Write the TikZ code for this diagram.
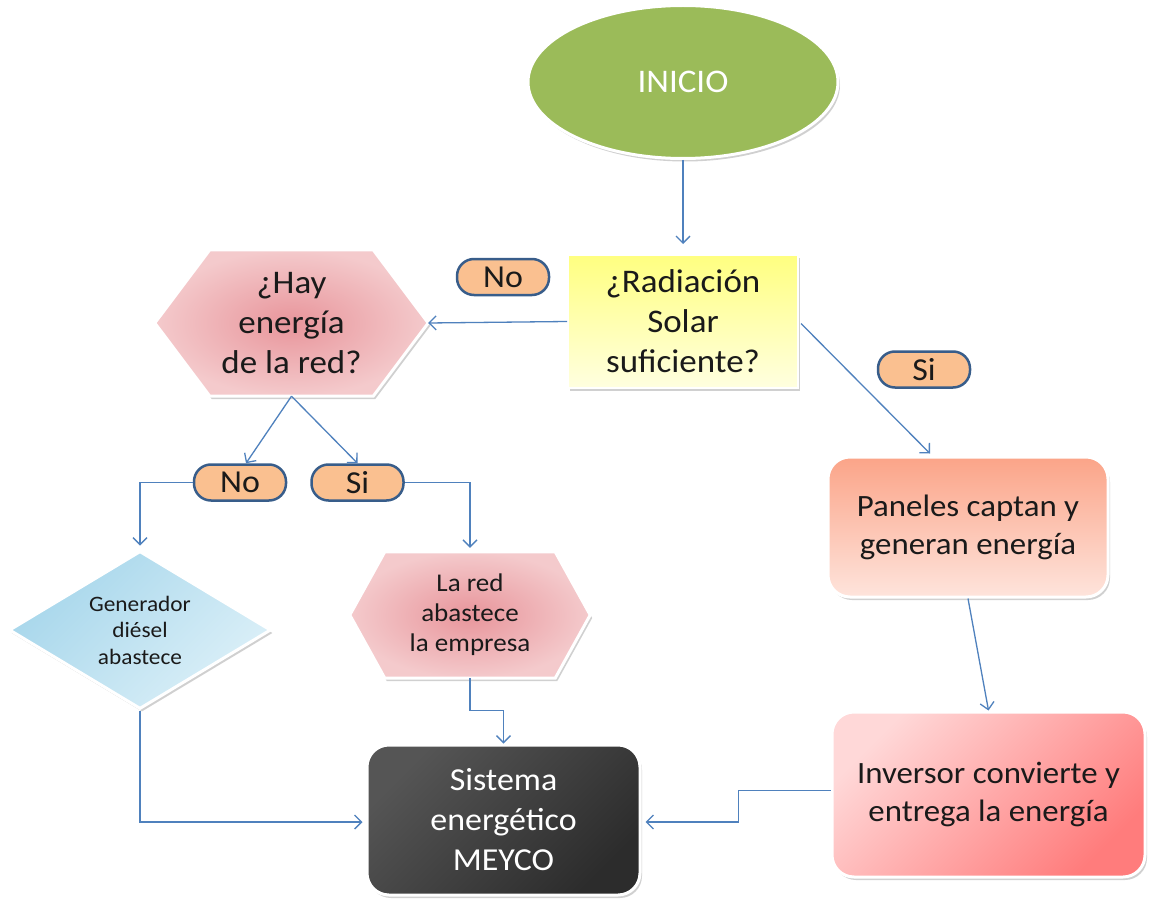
\documentclass[tikz,border=0pt]{standalone}
\usepackage{fontspec}
\setmainfont{Carlito}[FakeStretch=1.06]
\usetikzlibrary{shapes.geometric,shadows,arrows.meta,calc,backgrounds}

\definecolor{flow}{HTML}{4F81BD}
\definecolor{pillfill}{HTML}{FAC090}
\definecolor{pillline}{HTML}{385D8A}
\definecolor{inigreen}{HTML}{9BBB59}
\definecolor{radtop}{HTML}{FFFF80}
\definecolor{radbot}{HTML}{FFFFE0}
\definecolor{hexin}{HTML}{E8959B}
\definecolor{hexout}{HTML}{F4CACC}
\definecolor{pantop}{HTML}{FBA488}
\definecolor{panbot}{HTML}{FEE4DC}
\definecolor{invlight}{HTML}{FFD8D8}
\definecolor{invdark}{HTML}{FF7C7C}
\definecolor{sislight}{HTML}{555555}
\definecolor{sisdark}{HTML}{2C2C2C}
\definecolor{diablue}{HTML}{A6D6EB}
\definecolor{dialight}{HTML}{DCF0F8}
\definecolor{ink}{HTML}{1A1A1A}

\tikzset{
  shadowed/.style={drop shadow={shadow xshift=2pt, shadow yshift=-3pt, opacity=0.3, fill=black!60}},
  bigtxt/.style={font=\fontsize{33}{40}\selectfont, align=center, text=ink},
  midtxt/.style={font=\fontsize{31}{38}\selectfont, align=center, text=ink},
  card/.style={rectangle, rounded corners=22pt, draw=white, line width=3pt, shadowed, inner sep=0pt},
  frame/.style={inner sep=0pt},
  hexa/.style={shade, shading=radial, inner color=hexin, outer color=hexout, draw=white, line width=3pt, shadowed},
  pill/.style={rectangle, rounded corners=17pt, minimum width=92pt, minimum height=36pt, inner sep=0pt,
    fill=pillfill, draw=pillline, line width=2.5pt, font=\fontsize{32}{32}\selectfont, text=ink},
  link/.style={draw=flow, line width=1.3pt, -{Straight Barb[length=7pt,width=14pt]}}
}

\begin{document}
\begin{tikzpicture}[x=1pt, y=-1pt]
  \begin{scope}[on background layer]
    \path[use as bounding box, fill=white] (0,0) rectangle (1151,904);
  \end{scope}

  % start
  \node[ellipse, minimum width=310pt, minimum height=153pt, fill=inigreen, draw=white, line width=3pt,
        shadowed, text=white, font=\fontsize{33}{36}\selectfont] (ini) at (683,82) {INICIO};

  % solar radiation decision
  \node[rectangle, minimum width=230pt, minimum height=133pt, inner sep=0pt, top color=radtop, bottom color=radbot,
        draw=white, line width=2pt, shadowed, bigtxt] (rad) at (683,321.5) {¿Radiación\\Solar\\suficiente?};

  % grid decision (hexagon)
  \node[frame, minimum width=273pt, minimum height=146pt, bigtxt] (hay) at (291.5,323) {¿Hay\\energía\\de la red?};
  \begin{scope}[on background layer]
    \path[hexa] (hay.west) -- ($(hay.north west)+(55,0)$) -- ($(hay.north east)+(-55,0)$) -- (hay.east)
      -- ($(hay.south east)+(-55,0)$) -- ($(hay.south west)+(55,0)$) -- cycle;
  \end{scope}

  % grid supplies the company (hexagon)
  \node[frame, minimum width=240pt, minimum height=126pt, font=\fontsize{25.5}{30}\selectfont, align=center, text=ink]
        (red) at (470,615) {La red\\abastece\\la empresa};
  \begin{scope}[on background layer]
    \path[hexa] (red.west) -- ($(red.north west)+(35,0)$) -- ($(red.north east)+(-35,0)$) -- (red.east)
      -- ($(red.south east)+(-35,0)$) -- ($(red.south west)+(35,0)$) -- cycle;
  \end{scope}

  % diesel generator
  \node[diamond, aspect=1.64, minimum width=262pt, minimum height=158pt, inner sep=0pt,
        top color=diablue, bottom color=dialight, shading angle=45, draw=white, line width=3pt, shadowed,
        font=\fontsize{22}{26.5}\selectfont, align=center, text=ink] (gen) at (140,630) {Generador\\diésel\\abastece};

  % solar branch
  \node[card, minimum width=280pt, minimum height=140pt, top color=pantop, bottom color=panbot, midtxt]
        (pan) at (968,527) {Paneles captan y\\generan energía};
  \node[card, minimum width=313pt, minimum height=165pt, top color=invlight, bottom color=invdark, shading angle=45, midtxt]
        (inv) at (988.5,794.5) {Inversor convierte y\\entrega la energía};

  % energy system
  \node[card, minimum width=273pt, minimum height=150pt, top color=sislight, bottom color=sisdark, shading angle=45,
        font=\fontsize{32}{40}\selectfont, align=center, text=white] (sis) at (503.5,820) {Sistema\\energético\\MEYCO};

  % answer labels
  \node[pill] (no1) at (503,277) {No};
  \node[pill] (si1) at (924,369.5) {Si};
  \node[pill] (no2) at (240,482.5) {No};
  \node[pill] (si2) at (357.5,482.5) {Si};

  % connectors
  \draw[link, shorten >=10pt] (ini.south) -- (rad.north);
  \draw[link] (rad.west) -- (hay.east);
  \draw[link] ($(rad.east)+(2,2)$) -- ($(pan.north)+(-38,-2)$);
  \draw[link] (hay.south) -- ($(no2.north)+(6,0)$);
  \draw[link] (hay.south) -- (si2.north);
  \draw[link] (no2.west) -| ($(gen.north)+(0,-4)$);
  \draw[link] (si2.east) -| ($(red.north)+(0,-4)$);
  \draw[link] (gen.south) |- ($(sis.west)+(-3,2)$);
  \draw[link] (red.south) -- ++(0,32) -| (sis.north);
  \draw[link] (pan.south) -- (inv.north);
  \draw[link] ($(inv.west)+(0,-4)$) -- ++(-92,0) |- ($(sis.east)+(4,2)$);
\end{tikzpicture}
\end{document}
